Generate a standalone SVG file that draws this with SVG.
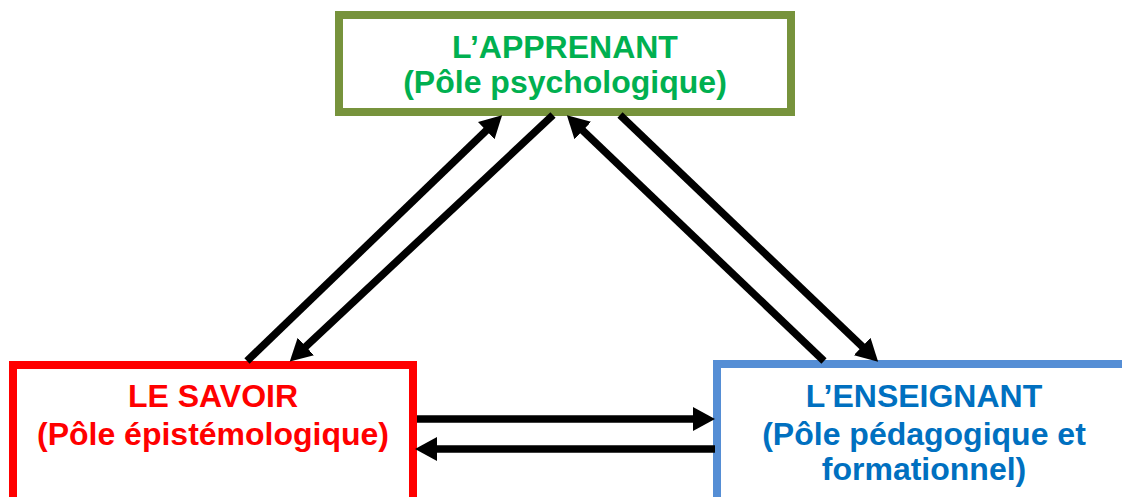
<svg xmlns="http://www.w3.org/2000/svg" width="1122" height="497" viewBox="0 0 1122 497">
<defs>
<marker id="ah" markerUnits="userSpaceOnUse" markerWidth="24" markerHeight="26" refX="8" refY="12" orient="auto" viewBox="0 0 24 24">
<path d="M0,0 L22,12 L0,24 z" fill="#000"/>
</marker>
<style>
.box{fill:#fff;stroke-width:8}
.t{font-family:"Liberation Sans",Arial,sans-serif;font-weight:bold;font-size:32px;text-anchor:middle}
.c{stroke:#000;stroke-width:7.5;fill:none;marker-end:url(#ah)}
</style>
</defs>
<rect width="1122" height="497" fill="#fff"/>
<g id="apprenant">
<rect class="box" x="339" y="15" width="452" height="97" stroke="#77933C"/>
<text class="t" x="565" y="58" fill="#00B050">L’APPRENANT</text>
<text class="t" x="565" y="93" fill="#00B050">(Pôle psychologique)</text>
</g>
<g id="savoir">
<rect class="box" x="13" y="365" width="400" height="200" stroke="#FF0000"/>
<text class="t" x="213" y="407" fill="#FF0000">LE SAVOIR</text>
<text class="t" x="213" y="445" fill="#FF0000">(Pôle épistémologique)</text>
</g>
<g id="enseignant">
<rect class="box" x="717" y="364" width="430" height="200" stroke="#558ED5"/>
<text class="t" x="924" y="407" fill="#0070C0">L’ENSEIGNANT</text>
<text class="t" x="924" y="445" fill="#0070C0">(Pôle pédagogique et</text>
<text class="t" x="924" y="480" fill="#0070C0">formationnel)</text>
</g>
<g id="connectors">
<line class="c" x1="247" y1="361" x2="492" y2="125"/>
<line class="c" x1="553" y1="115" x2="300" y2="352"/>
<line class="c" x1="824" y1="361" x2="577" y2="125"/>
<line class="c" x1="620" y1="115" x2="868" y2="352"/>
<line class="c" x1="417" y1="419" x2="701" y2="419"/>
<line class="c" x1="715" y1="449" x2="429" y2="449"/>
</g>
</svg>
